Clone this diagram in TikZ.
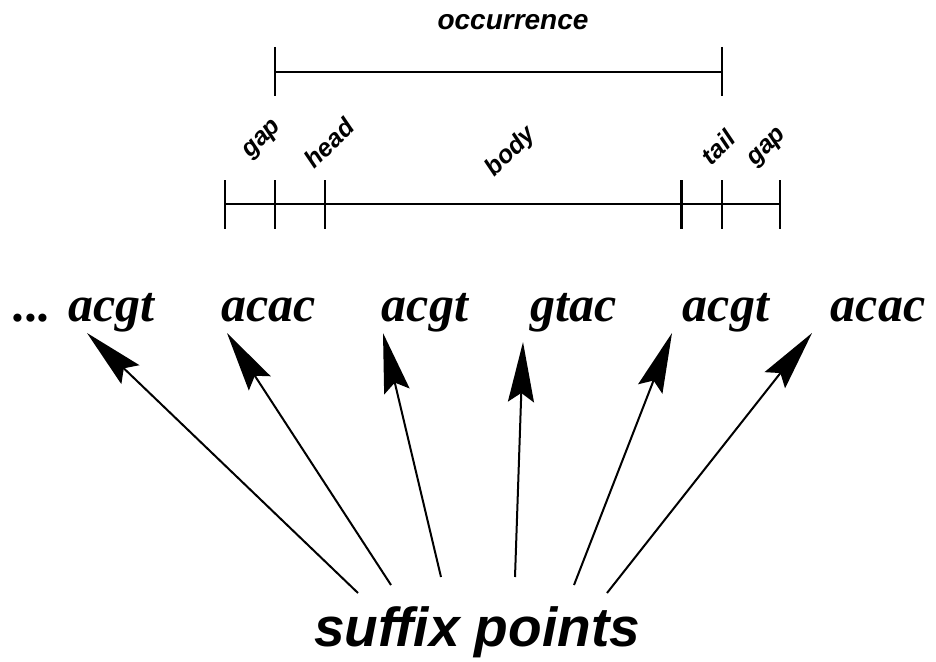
\documentclass[tikz,border=0pt]{standalone}
\usepackage{fontspec}
\setmainfont{Liberation Serif}
\setsansfont{Liberation Sans}
\usetikzlibrary{arrows.meta}
\tikzset{
  seq/.style={font=\fontsize{50}{50}\selectfont\bfseries\itshape, anchor=base, inner sep=0pt},
  part/.style={font=\sffamily\bfseries\itshape\fontsize{25}{25}\selectfont, rotate=45, inner sep=0pt},
  title/.style={font=\sffamily\bfseries\itshape\fontsize{28}{28}\selectfont, inner sep=0pt},
  big/.style={font=\sffamily\bfseries\itshape\fontsize{55}{55}\selectfont, anchor=base, inner sep=0pt},
  bar/.style={draw, line width=2.5pt},
  pointer/.style={draw, line width=2pt, -{Stealth[length=60pt,width=26pt,inset=9pt]}},
}
\begin{document}
\begin{tikzpicture}[x=1pt,y=-1pt]
  \useasboundingbox (0,0) rectangle (936,661);

  % occurrence span
  \node[title] (occ) at (513,22) {occurrence};
  \draw[bar] (275,72) -- (722,72);
  \foreach \x in {275,722}
    \draw[bar] (\x,47) -- (\x,96);

  % gap / head / body / tail / gap
  \draw[bar] (225,204) -- (780,204);
  \foreach \x in {225,275,325,681.5,722,780}
    \draw[bar] (\x,180) -- (\x,229);
  \node[part] (gapl) at (263,140) {gap};
  \node[part] (head) at (329,143) {head};
  \node[part] (body) at (511,152) {body};
  \node[part] (tail) at (718,147) {tail};
  \node[part] (gapr) at (768,148) {gap};

  % the sequence
  \node[seq] (w1) at (84,321) {... acgt};
  \node[seq] (w2) at (268.5,321) {acac};
  \node[seq] (w3) at (425,321) {acgt};
  \node[seq] (w4) at (573.5,321) {gtac};
  \node[seq] (w5) at (726,321) {acgt};
  \node[seq] (w6) at (878,321) {acac};

  \node[big] (sfx) at (477,646) {suffix points};

  % arrow ends
  \coordinate (t1) at (87,333);
  \coordinate (t2) at (227,333);
  \coordinate (t3) at (383,333);
  \coordinate (t4) at (523,342);
  \coordinate (t5) at (672,333);
  \coordinate (t6) at (812,333);
  \coordinate (s1) at (358,593);
  \coordinate (s2) at (391,585);
  \coordinate (s3) at (441,577);
  \coordinate (s4) at (515,577);
  \coordinate (s5) at (574,585);
  \coordinate (s6) at (607,593);

  \foreach \i in {1,...,6}
    \draw[pointer] (s\i) -- (t\i);
\end{tikzpicture}
\end{document}
